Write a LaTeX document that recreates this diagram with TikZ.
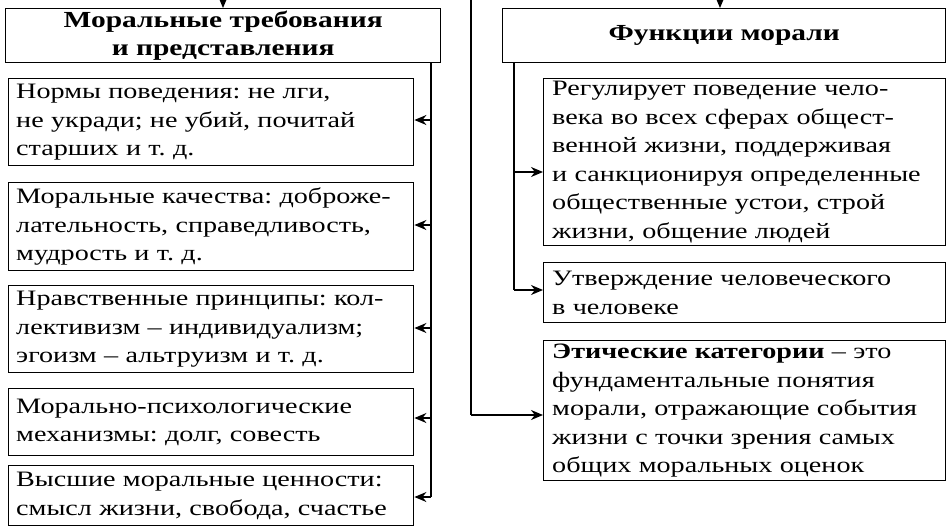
\documentclass[tikz,border=0pt]{standalone}
\usepackage{fontspec}
\setmainfont{Liberation Serif}[FakeStretch=1.28]
\usetikzlibrary{arrows.meta}
\begin{document}
\frenchspacing
\begin{tikzpicture}[x=1pt,y=-1pt,
  box/.style={draw,line width=1.4pt,anchor=north west,inner sep=0pt,align=left,font=\fontsize{22}{28.5}\selectfont},
  hd/.style={draw,line width=1.4pt,anchor=north west,inner sep=0pt,align=center,font=\bfseries\fontsize{23}{28}\selectfont},
  ar/.style={line width=1.3pt,-{Stealth[length=12pt,width=10pt]}},
  ln/.style={line width=1.3pt}]
\useasboundingbox (0,0) rectangle (951,528);
\node[hd,minimum width=435pt,minimum height=54pt] (h1) at (5,8) {Моральные требования\\и представления};
\node[hd,minimum width=443pt,minimum height=54pt] (h2) at (502,8) {Функции морали};
\coordinate (t1) at (223,0); \coordinate (t2) at (720,0);
\draw[ar] (t1) -- (h1.north -| t1);
\draw[ar] (t2) -- (h2.north -| t2);
\def\lb#1#2#3#4{\node[box,minimum width=405pt,minimum height=#3pt,text width=400pt] (#1) at (8,#2) {\hspace*{5pt}\parbox{395pt}{#4}};}
\lb{l1}{78}{87}{Нормы поведения: не лги,\\не укради; не убий, почитай\\старших и т. д.}
\lb{l2}{182}{88}{Моральные качества: доброже-\\лательность, справедливость,\\мудрость и т. д.}
\lb{l3}{285}{87}{Нравственные принципы: кол-\\лективизм – индивидуализм;\\эгоизм – альтруизм и т. д.}
\lb{l4}{388}{67}{Морально-психологические\\механизмы: долг, совесть}
\lb{l5}{465}{60}{Высшие моральные ценности:\\смысл жизни, свобода, счастье}
\def\rb#1#2#3#4{\node[box,minimum width=402pt,minimum height=#3pt,text width=397pt] (#1) at (543,#2) {\hspace*{6pt}\parbox{391pt}{#4}};}
\rb{r1}{78}{167}{Регулирует поведение чело-\\века во всех сферах общест-\\венной жизни, поддерживая\\и санкционируя определенные\\общественные устои, строй\\жизни, общение людей}
\rb{r2}{262}{60}{Утверждение человеческого\\в человеке}
\rb{r3}{340}{140}{\textbf{Этические категории} – это\\фундаментальные понятия\\морали, отражающие события\\жизни с точки зрения самых\\общих моральных оценок}
% left bus
\coordinate (lb0) at (431,62); \coordinate (lb1) at (431,497);
\draw[ln] (lb0) -- (lb1);
\foreach \n/\y in {l1/120,l2/225,l3/328,l4/418,l5/497}
  \draw[ar] (431,\y) -- (\n.east |- 0,\y);
% right bus
\coordinate (rb0) at (514,62); \coordinate (rb1) at (514,290);
\draw[ln] (rb0) -- (rb1);
\draw[ar] (514,172) -- (r1.west |- 0,172);
\draw[ar] (rb1) -- (r2.west |- rb1);
% long line
\coordinate (m0) at (471,0); \coordinate (m1) at (471,415);
\draw[ln] (m0) -- (m1);
\draw[ar] (m1) -- (r3.west |- m1);
\end{tikzpicture}
\end{document}
